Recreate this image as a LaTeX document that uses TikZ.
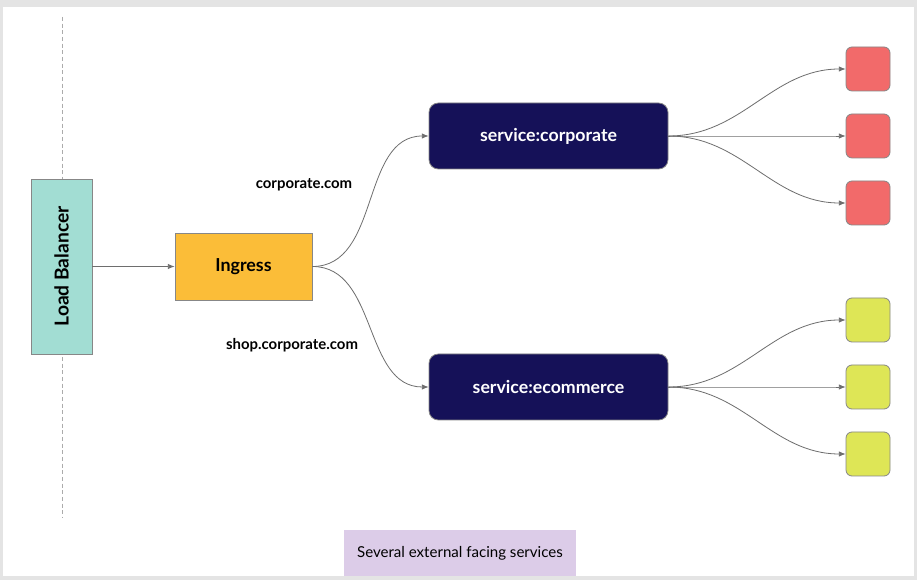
\documentclass[tikz,border=0pt]{standalone}
\usepackage{fontspec}
\setmainfont{Lato}
\usetikzlibrary{arrows.meta}
\definecolor{framegray}{RGB}{228,228,228}
\definecolor{balancerteal}{RGB}{162,221,211}
\definecolor{ingressgold}{RGB}{251,189,56}
\definecolor{servicenavy}{RGB}{21,17,88}
\definecolor{corporatered}{RGB}{242,106,106}
\definecolor{shoplime}{RGB}{222,230,86}
\definecolor{noteliliac}{RGB}{220,204,232}
\definecolor{wiregray}{RGB}{110,110,110}
\definecolor{bordergray}{RGB}{135,135,135}

\begin{document}
\begin{tikzpicture}[x=0.75pt, y=-0.75pt,
    box/.style={draw=bordergray, line width=0.6pt, inner sep=0pt},
    podbox/.style={box, rounded corners=4.5pt, minimum width=33pt, minimum height=33pt},
    svcbox/.style={box, fill=servicenavy, rounded corners=7pt, minimum width=179.25pt,
        minimum height=49.5pt, text=white, font=\bfseries\fontsize{13.3}{15}\selectfont},
    wire/.style={wiregray, line width=0.6pt, -{Latex[length=5pt, width=4pt]}},
    hostlabel/.style={font=\bfseries\fontsize{11.2}{13}\selectfont}]
    % frame
    \useasboundingbox (0,0) rectangle (917,580);
    \fill[framegray] (0,0) rectangle (917,580);
    \fill[white] (3,7) rectangle (914,576);
    \draw[bordergray!70, line width=0.75pt, dash pattern=on 3pt off 2pt] (62,17) -- (62,518);

    % entry path
    \node[box, fill=balancerteal, rotate=90, minimum width=131.25pt, minimum height=45.75pt,
        font=\bfseries\fontsize{14.4}{16}\selectfont] (balancer) at (61.5,266.5) {Load Balancer};
    \node[box, fill=ingressgold, minimum width=102.75pt, minimum height=50.25pt,
        font=\bfseries\fontsize{13.4}{15}\selectfont] (ingress) at (243.5,266.5) {Ingress};
    \draw[wire] (balancer.south) -- (ingress.west);

    % services
    \node[svcbox] (corporate) at (548.5,136) {service:corporate};
    \node[svcbox] (ecommerce) at (548.5,387) {service:ecommerce};
    \node[hostlabel] (corplabel) at (304,185) {corporate.com};
    \node[hostlabel] (shoplabel) at (292,345) {shop.corporate.com};
    \draw[wire] (ingress.east) to[out=0, in=180] (corporate.west);
    \draw[wire] (ingress.east) to[out=0, in=180] (ecommerce.west);

    % pods
    \foreach \n/\y in {1/69, 2/136, 3/203} {
        \node[podbox, fill=corporatered] (corppod\n) at (868,\y) {};
        \draw[wire] (corporate.east) to[out=0, in=180] (corppod\n.west);
    }
    \foreach \n/\y in {1/320, 2/387, 3/454} {
        \node[podbox, fill=shoplime] (shoppod\n) at (868,\y) {};
        \draw[wire] (ecommerce.east) to[out=0, in=180] (shoppod\n.west);
    }

    % caption
    \node[fill=noteliliac, minimum width=174pt, minimum height=35.25pt, inner sep=0pt,
        font=\fontsize{11.3}{13}\selectfont] (caption) at (460,553.5) {Several external facing services};
    \fill[framegray] (0,576) rectangle (917,580);
\end{tikzpicture}
\end{document}
